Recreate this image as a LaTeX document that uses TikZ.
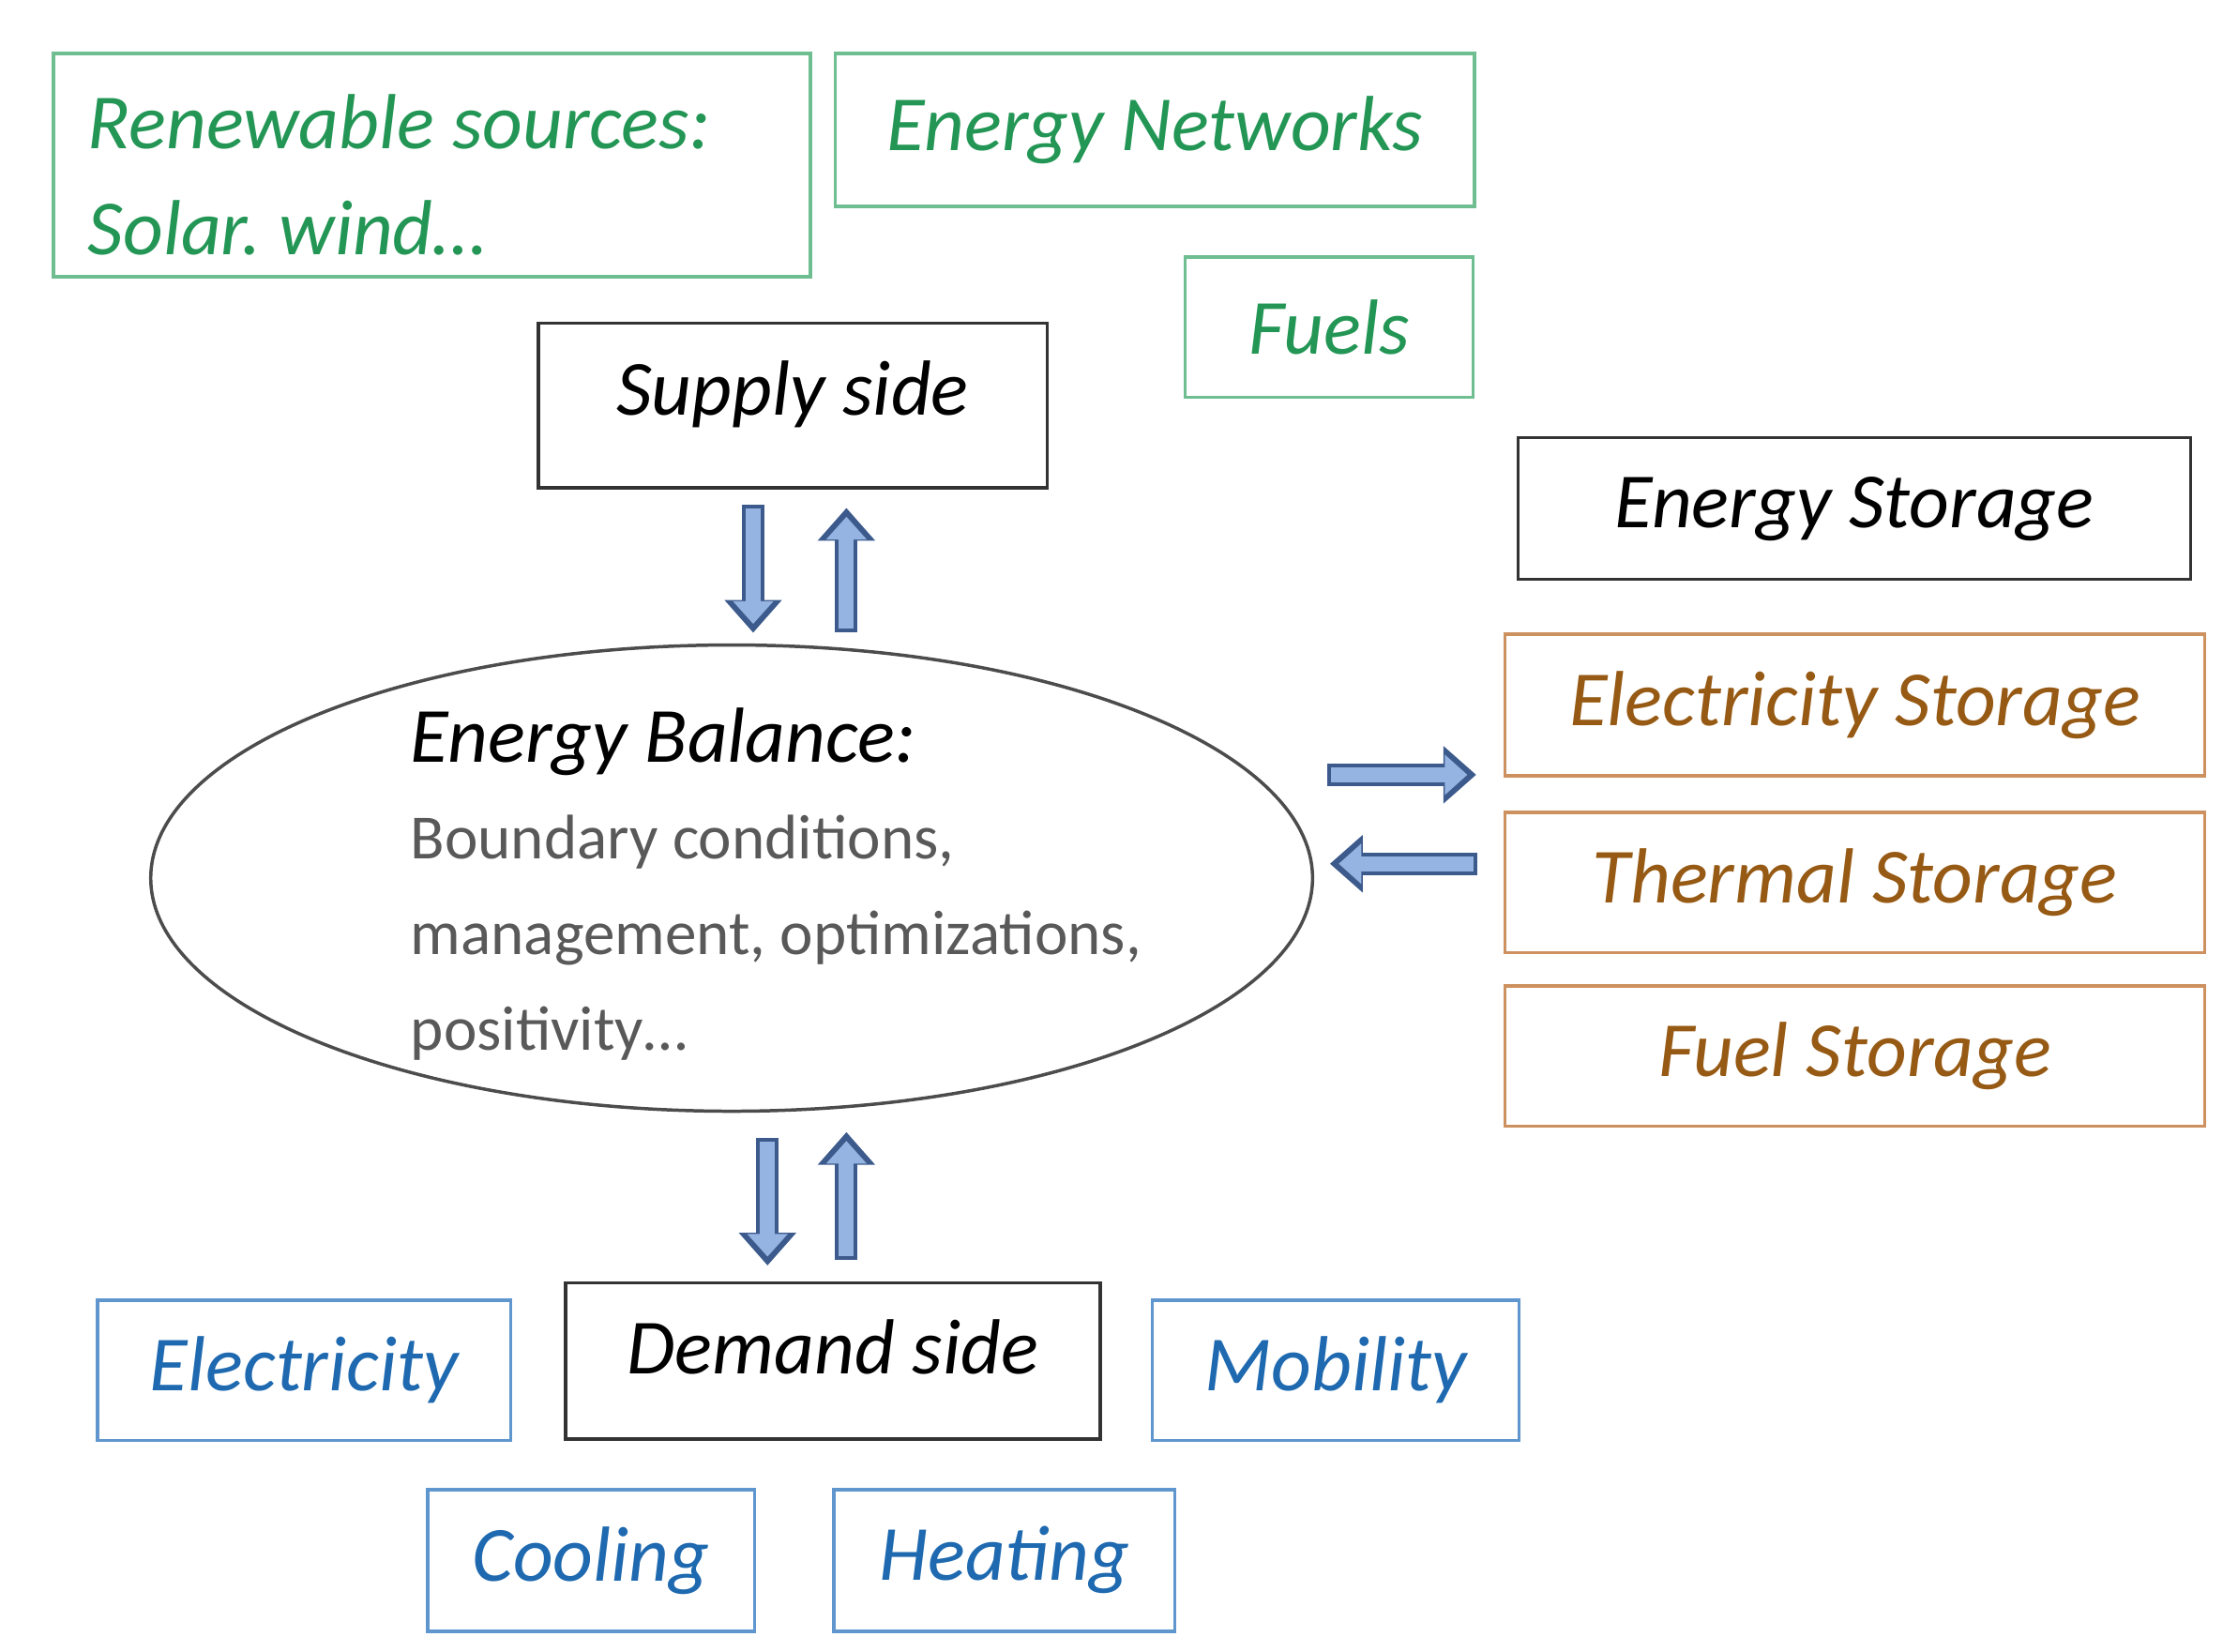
\documentclass[tikz,border=0pt]{standalone}
\usepackage{fontspec}
\setmainfont{Carlito}
\frenchspacing
\usetikzlibrary{arrows.meta,shapes.geometric}
\definecolor{gtext}{RGB}{35,150,85}\definecolor{gbord}{RGB}{110,190,145}
\definecolor{btext}{RGB}{30,105,175}\definecolor{bbord}{RGB}{95,150,205}
\definecolor{otext}{RGB}{150,90,20}\definecolor{obord}{RGB}{205,145,95}
\definecolor{afill}{RGB}{150,180,225}\definecolor{aedge}{RGB}{60,90,140}
\begin{document}
\begin{tikzpicture}[x=0.02cm,y=-0.02cm,
 bx/.style={draw,line width=1.3pt,inner sep=0pt,font=\fontsize{31}{36}\selectfont\itshape},
 gb/.style={bx,draw=gbord,text=gtext},
 bb/.style={bx,draw=bbord,text=btext},
 ob/.style={bx,draw=obord,text=otext},
 kb/.style={bx,draw=black!80,text=black},
 fat/.style={line width=9pt,draw=aedge,-{Triangle[width=22pt,length=13pt]}},
 fatin/.style={line width=6pt,draw=afill,shorten >=3.5pt,shorten <=1.5pt,-{Triangle[width=15.5pt,length=9pt]}}]
\useasboundingbox (0,0) rectangle (1560,1151);
\newcommand{\bbox}[6]{\node[#1,minimum width={(#4-#2)*0.02cm-1.3pt},minimum height={(#5-#3)*0.02cm-1.3pt}] (#6) at ({(#2+#4)/2},{(#3+#5)/2}) {};}
\bbox{gb}{36}{36}{566}{194}{ren}
\node[anchor=west,text=gtext,font=\fontsize{31}{36}\selectfont\itshape,align=left] at (55,122) {Renewable sources:\\[6pt]Solar.  wind…};
\bbox{gb}{581}{36}{1029}{145}{net}\node[text=gtext,font=\fontsize{31}{36}\selectfont\itshape] at (net) {Energy Networks};
\bbox{gb}{825}{178}{1028}{278}{fue}\node[text=gtext,font=\fontsize{31}{36}\selectfont\itshape] at (fue) {Fuels};
\bbox{kb}{374}{224}{731}{341}{sup}\node[font=\fontsize{31}{36}\selectfont\itshape] at ([yshift=0.15cm]sup) {Supply side};
\bbox{kb}{1057}{304}{1528}{405}{est}\node[font=\fontsize{31}{36}\selectfont\itshape] at (est) {Energy Storage};
\bbox{ob}{1048}{441}{1538}{542}{els}\node[text=otext,font=\fontsize{31}{36}\selectfont\itshape] at (els) {Electricity Storage};
\bbox{ob}{1048}{565}{1538}{665}{ths}\node[text=otext,font=\fontsize{31}{36}\selectfont\itshape] at (ths) {Thermal Storage};
\bbox{ob}{1048}{686}{1538}{786}{fus}\node[text=otext,font=\fontsize{31}{36}\selectfont\itshape] at (fus) {Fuel Storage};
\node[draw=black!70,line width=1.3pt,ellipse,minimum width=16.2cm,minimum height=6.5cm] (bal) at (510,612) {};
\node[anchor=west,align=left,font=\fontsize{31}{36}\selectfont\itshape] (bt) at (280,517) {Energy Balance:};
\node[anchor=north west,align=left,text=black!65,font=\fontsize{25}{38}\selectfont] at (280,562) {Boundary conditions,\\management, optimizations,\\positivity…};
\bbox{kb}{393}{893}{768}{1004}{dem}\node[font=\fontsize{31}{36}\selectfont\itshape] at ([yshift=0.2cm]dem) {Demand side};
\bbox{bb}{67}{905}{357}{1005}{ele}\node[text=btext,font=\fontsize{31}{36}\selectfont\itshape] at (ele) {Electricity};
\bbox{bb}{802}{905}{1060}{1005}{mob}\node[text=btext,font=\fontsize{31}{36}\selectfont\itshape] at (mob) {Mobility};
\bbox{bb}{297}{1037}{527}{1138}{coo}\node[text=btext,font=\fontsize{31}{36}\selectfont\itshape] at (coo) {Cooling};
\bbox{bb}{580}{1037}{820}{1138}{hea}\node[text=btext,font=\fontsize{31}{36}\selectfont\itshape] at (hea) {Heating};
\coordinate (a1) at (525,352);\coordinate (a2) at (525,441);
\coordinate (b1) at (590,441);\coordinate (b2) at (590,354);
\coordinate (c1) at (535,793);\coordinate (c2) at (535,882);
\coordinate (d1) at (590,878);\coordinate (d2) at (590,789);
\coordinate (e1) at (925,540);\coordinate (e2) at (1029,540);
\coordinate (f1) at (1030,602);\coordinate (f2) at (927,602);
\foreach \s/\t in {a1/a2,b1/b2,c1/c2,d1/d2,e1/e2,f1/f2}{
 \draw[fat] (\s) -- (\t); \draw[fatin] (\s) -- (\t);}
\end{tikzpicture}
\end{document}
